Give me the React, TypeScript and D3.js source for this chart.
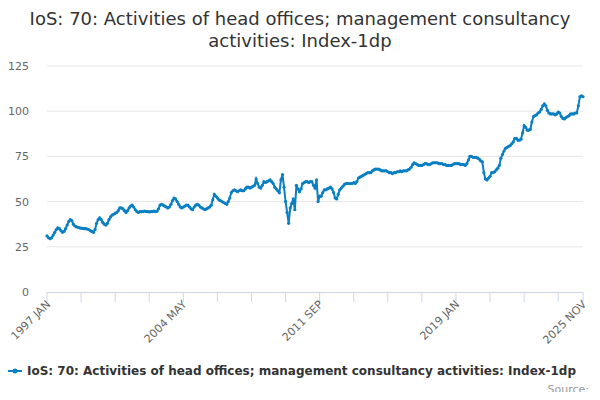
import React from 'react';
import * as d3 from 'd3';

const startYear = 1997;
const values: number[] = [
  31, 30, 29.5, 30, 31.5, 33, 34.5, 35.5, 35, 34, 33, 33.5,
  35, 37, 39, 40, 39.5, 37.5, 36.5, 36, 35.8, 35.5, 35.3, 35.2,
  35, 35, 34.8, 34.5, 34, 33.5, 33, 34.5, 38, 40, 41, 40,
  38.5, 37.5, 37, 38, 40, 41.5, 42.5, 43, 43.5, 44, 45, 46.5,
  46.5, 46, 45, 44, 45, 46.5, 47.5, 48, 47, 45.5, 44.5, 44,
  44.5, 44.5, 44.5, 44.8, 44.5, 44.5, 44.3, 44.5, 44.5, 44.8, 44.5, 44.7,
  46, 48, 48.5, 48, 47.5, 47, 46.5, 47, 48.5, 50.5, 52, 51.5,
  50, 48.5, 47, 46.5, 47, 47.5, 48, 48, 47, 46, 45.5, 47,
  48, 48.5, 48, 47, 46.5, 46, 45.5, 46, 46.5, 47, 48, 51,
  54, 53, 52, 51, 50.5, 50, 49.5, 49, 48.5, 50, 52, 55,
  56, 56.5, 56, 55.5, 56, 56.5, 56, 56, 57, 58, 58, 57.5,
  58, 58.5, 59, 62.5, 60, 58, 57.5, 59, 61, 60.5, 61, 61.5,
  62, 61, 60, 58, 57, 56, 55, 62, 65, 58, 50, 44,
  38, 46.5, 49, 51.5, 45.5, 59, 57, 55.5, 57, 60, 60.5, 61,
  61, 60.5, 61, 61, 59, 57.5, 62, 50, 53, 53, 55, 56.5,
  56.5, 57, 57.5, 58, 57, 55, 52, 51.5, 54, 56.5, 57.5, 58.5,
  59.5, 60, 60, 60, 60, 60, 60.5, 60, 61, 63, 63.5, 64,
  64.5, 65, 65.5, 66, 66, 66, 67, 67.5, 68, 68, 68, 67.5,
  67, 67, 67, 67, 66.5, 66, 66, 65.5, 66, 66, 66.5, 66.5,
  67, 66.5, 67, 67, 67, 67.5, 68, 69, 70.5, 71.5, 71, 70.5,
  70, 70, 70, 70.5, 71, 71, 70.5, 70.5, 71, 71.5, 71.5, 71.5,
  71.5, 71, 71, 71, 70.5, 70.5, 70, 70, 70, 70, 70.5, 71,
  71, 71, 71, 70.5, 70.5, 70.5, 70, 71, 73, 75, 75, 74.5,
  74.5, 74.5, 74, 73.5, 72.5, 72, 66, 62.5, 62, 63, 64, 66,
  66, 66.5, 67.5, 68.5, 70, 74, 76, 78, 79.5, 80, 80.5, 81,
  82, 83, 85, 85, 84, 84, 84.5, 88, 92, 91, 89.5, 89.5,
  90, 94, 97, 97.5, 98, 99, 99.5, 101, 103, 104, 103, 100.5,
  99, 98.5, 98.5, 98.5, 98, 98.5, 99.5, 99, 97, 96, 95.7, 96.5,
  97, 97.5, 98.5, 98.5, 98.5, 99, 99, 103, 108, 108.5, 108,
];
const yTicks = [0, 25, 50, 75, 100, 125];
const monthNames = ['JAN', 'FEB', 'MAR', 'APR', 'MAY', 'JUN', 'JUL', 'AUG', 'SEP', 'OCT', 'NOV', 'DEC'];
const labelMonths = [0, 88, 176, 264, 346];
const title = ['IoS: 70: Activities of head offices; management consultancy', 'activities: Index-1dp'];
const seriesName = 'IoS: 70: Activities of head offices; management consultancy activities: Index-1dp';

const blue = '#0a7fc3';
const font = '"DejaVu Sans", sans-serif';

export default function App() {
  const width = 600;
  const height = 400;
  const x = d3.scaleLinear().domain([0, values.length - 1]).range([47, 583]);
  const y = d3.scaleLinear().domain([0, 125]).range([292, 66]);
  const line = d3.line<number>().x((_, i) => x(i)).y(d => y(d));
  const minorTicks = d3.range(0, values.length, 22);
  const label = (m: number) => `${startYear + Math.floor(m / 12)} ${monthNames[m % 12]}`;

  return (
    <svg width={width} height={height} style={{ display: 'block', margin: -8, fontFamily: font }}>
      <rect width={width} height={height} fill="#fff" />
      {title.map((t, i) => (
        <text key={i} x={300} y={25 + i * 22} textAnchor="middle" fontSize={18} fill="#333">{t}</text>
      ))}
      {yTicks.map(t => (
        <g key={t}>
          {t > 0 && <line x1={47} x2={583} y1={y(t)} y2={y(t)} stroke="#e6e6e6" />}
          <text x={29} y={y(t) + 4} textAnchor="end" fontSize={11} fill="#666">{t}</text>
        </g>
      ))}
      <line x1={47} x2={583} y1={292.5} y2={292.5} stroke="#ccd6eb" />
      {minorTicks.map(m => (
        <line key={m} x1={x(m)} x2={x(m)} y1={292} y2={302} stroke="#ccd6eb" />
      ))}
      <line x1={x(values.length - 1)} x2={x(values.length - 1)} y1={292} y2={302} stroke="#ccd6eb" />
      {labelMonths.map(m => (
        <text key={m} transform={`translate(${x(m) + 4},${305}) rotate(-45)`} textAnchor="end" fontSize={11} fill="#666">{label(m)}</text>
      ))}
      <path d={line(values) ?? ''} fill="none" stroke={blue} strokeWidth={2} />
      {values.map((v, i) => (
        <circle key={i} cx={x(i)} cy={y(v)} r={1.6} fill={blue} />
      ))}
      <line x1={8} x2={22} y1={371} y2={371} stroke={blue} strokeWidth={2} />
      <circle cx={15} cy={371} r={2.5} fill={blue} />
      <text x={27} y={375} fontSize={12} fontWeight="bold" fill="#333">{seriesName}</text>
      <text x={589} y={393} textAnchor="end" fontSize={11} fill="#999">Source:</text>
    </svg>
  );
}
